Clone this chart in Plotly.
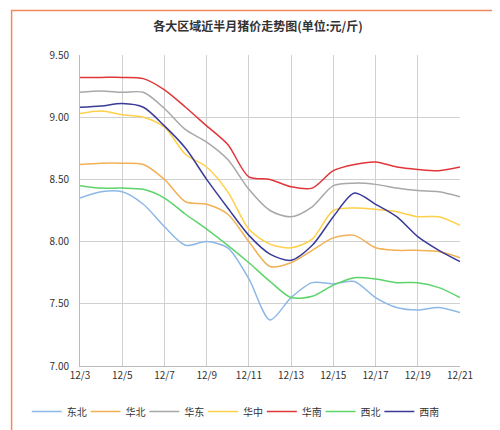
import plotly.graph_objects as go

days = [f"12/{d}" for d in range(3, 22)]
tick_labels = [f"12/{d}" for d in range(3, 22, 2)]

dongbei = [8.35, 8.40, 8.40, 8.30, 8.12, 7.97, 8.00, 7.95, 7.70, 7.37, 7.55, 7.67, 7.66, 7.68, 7.55, 7.47, 7.45, 7.47, 7.43]
huabei = [8.62, 8.63, 8.63, 8.62, 8.50, 8.32, 8.30, 8.22, 8.00, 7.80, 7.83, 7.93, 8.03, 8.05, 7.95, 7.93, 7.93, 7.92, 7.87]
huadong = [9.20, 9.21, 9.20, 9.20, 9.07, 8.90, 8.80, 8.66, 8.42, 8.25, 8.20, 8.28, 8.45, 8.47, 8.46, 8.43, 8.41, 8.40, 8.36]
huazhong = [9.03, 9.05, 9.02, 9.00, 8.92, 8.70, 8.60, 8.40, 8.10, 7.98, 7.95, 8.02, 8.25, 8.27, 8.26, 8.24, 8.20, 8.20, 8.13]
huanan = [9.32, 9.32, 9.32, 9.31, 9.22, 9.08, 8.93, 8.78, 8.52, 8.50, 8.44, 8.43, 8.57, 8.62, 8.64, 8.60, 8.58, 8.57, 8.60]
xibei = [8.45, 8.43, 8.43, 8.42, 8.35, 8.22, 8.10, 7.97, 7.83, 7.68, 7.55, 7.56, 7.65, 7.71, 7.70, 7.67, 7.67, 7.63, 7.55]
xinan = [9.08, 9.09, 9.11, 9.08, 8.93, 8.75, 8.50, 8.27, 8.05, 7.90, 7.85, 7.97, 8.20, 8.39, 8.30, 8.20, 8.04, 7.93, 7.84]

series = [
    ("东北", dongbei, "#8DB8E6"),
    ("华北", huabei, "#F2B155"),
    ("华东", huadong, "#A8A8A8"),
    ("华中", huazhong, "#FFD04A"),
    ("华南", huanan, "#E0363A"),
    ("西北", xibei, "#5CD46A"),
    ("西南", xinan, "#3A3A99"),
]

fig = go.Figure()
for name, vals, color in series:
    fig.add_trace(go.Scatter(x=days, y=vals, name=name, mode="lines",
                             line=dict(color=color, width=1.5, shape="spline", smoothing=0.8)))

fig.update_layout(
    width=500, height=430,
    paper_bgcolor="white", plot_bgcolor="white",
    font=dict(family="Noto Sans CJK SC", size=10, color="#333"),
    title=dict(text="<b>各大区域近半月猪价走势图(单位:元/斤)</b>", x=0.5, y=0.965,
               font=dict(size=12, color="#333")),
    margin=dict(l=72, r=48, t=47, b=72, autoexpand=False),
    xaxis=dict(tickmode="array", tickvals=tick_labels, ticktext=tick_labels,
               showgrid=True, gridcolor="#d0d0d0", showline=True, linecolor="#bbb",
               range=[0, 18], ticks="", automargin=False),
    yaxis=dict(range=[7.0, 9.5], dtick=0.5, tickformat=".2f", showgrid=True,
               gridcolor="#d0d0d0", showline=True, linecolor="#bbb", zeroline=False,
               ticklabelstandoff=8, automargin=False),
    legend=dict(orientation="h", x=-0.14, xanchor="left", y=-0.1, yanchor="top",
                font=dict(size=10), itemwidth=30, tracegroupgap=0,
                entrywidth=0.13, entrywidthmode="fraction"),
    shapes=[dict(type="rect", xref="paper", yref="paper", x0=-0.18, x1=1.12,
                 y0=-0.223, y1=1.143, line=dict(color="#F08A5D", width=1.5))],
)

fig.write_html("out.html")
